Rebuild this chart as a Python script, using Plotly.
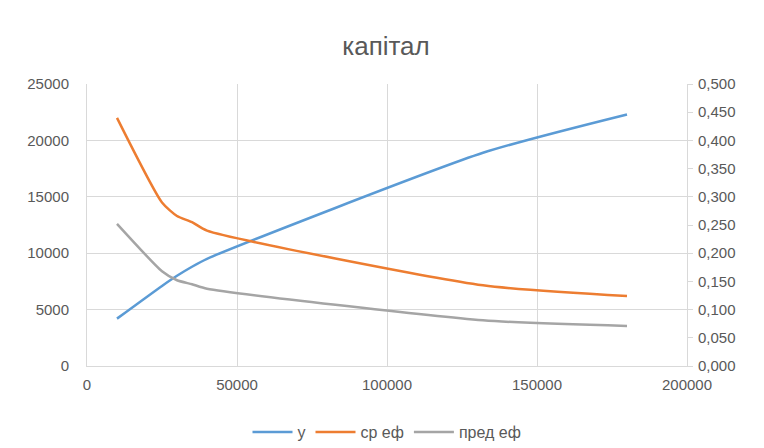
import plotly.graph_objects as go

# дані з графіка
x_vals = [10000, 25000, 30000, 35000, 40000, 132000, 180000]
y_vals = [4200, 7100, 8000, 8800, 9500, 18900, 22300]
sr_ef = [0.440, 0.290, 0.266, 0.255, 0.240, 0.143, 0.124]
pred_ef = [0.252, 0.168, 0.152, 0.145, 0.137, 0.081, 0.071]

names = ["y", "ср еф", "пред еф"]
colors = ["#5B9BD5", "#ED7D31", "#A5A5A5"]

left_ticks = [0, 5000, 10000, 15000, 20000, 25000]
right_ticks = [0, 0.05, 0.1, 0.15, 0.2, 0.25, 0.3, 0.35, 0.4, 0.45, 0.5]
right_labels = ["0,000", "0,050", "0,100", "0,150", "0,200", "0,250",
                "0,300", "0,350", "0,400", "0,450", "0,500"]
x_ticks = [0, 50000, 100000, 150000, 200000]

font_color = "#595959"
grid_color = "#D9D9D9"

fig = go.Figure()
for vals, name, col, ax in zip([y_vals, sr_ef, pred_ef], names, colors, ["y", "y2", "y2"]):
    fig.add_trace(go.Scatter(x=x_vals, y=vals, name=name, mode="lines", yaxis=ax,
                             line=dict(color=col, width=2.5, shape="spline", smoothing=0.6)))

# сторінка має відступ 8px, тому фігура трохи менша
fig.update_layout(
    width=756, height=440,
    margin=dict(l=79, r=77, t=76, b=82),
    paper_bgcolor="white", plot_bgcolor="white",
    font=dict(family="Liberation Sans, Arial", size=15, color=font_color),
    title=dict(text="капітал", x=0.5, xanchor="center", y=0.915, yanchor="middle",
               font=dict(size=26, color=font_color)),
    xaxis=dict(range=[0, 200000], tickvals=x_ticks, ticktext=[str(v) for v in x_ticks],
               showgrid=True, gridcolor=grid_color, zeroline=False,
               showline=True, linecolor=grid_color, ticks="", ticklabelstandoff=5),
    yaxis=dict(range=[0, 25000], tickvals=left_ticks, ticktext=[str(v) for v in left_ticks],
               showgrid=True, gridcolor=grid_color, zeroline=False,
               showline=True, linecolor=grid_color, ticks="", ticklabelstandoff=14),
    yaxis2=dict(range=[0, 0.5], tickvals=right_ticks, ticktext=right_labels,
                overlaying="y", side="right", showgrid=False, zeroline=False,
                showline=True, linecolor=grid_color, ticks="outside", ticklen=5,
                tickcolor=grid_color, ticklabelstandoff=2),
    legend=dict(orientation="h", x=0.5, xanchor="center", yref="container",
                y=0.036, yanchor="middle",
                font=dict(size=16, color=font_color), itemwidth=40),
)

fig.write_html("out.html")
